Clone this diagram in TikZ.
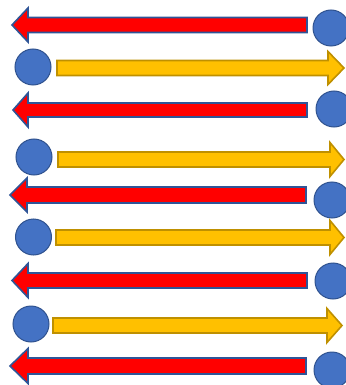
\documentclass[tikz,border=0pt]{standalone}
\usetikzlibrary{calc}
\definecolor{redfill}{HTML}{FF0000}
\definecolor{redline}{HTML}{2F5597}
\definecolor{yelfill}{HTML}{FFC000}
\definecolor{yelline}{HTML}{BF9000}
\definecolor{dotfill}{HTML}{4472C4}
\definecolor{dotline}{HTML}{2F528F}
\tikzset{
  redarrow/.style={fill=redfill,draw=redline,line width=1.6pt,line join=miter},
  yelarrow/.style={fill=yelfill,draw=yelline,line width=1.6pt,line join=miter},
  dot/.style={circle,fill=dotfill,draw=dotline,line width=1pt,minimum size=36pt,inner sep=0pt}
}
% #1 tip x, #2 head base x, #3 shaft end x, #4 centre y, #5 shaft half, #6 head half
\newcommand\myleftarrow[6]{%
  \draw[redarrow] (#1,#4) -- (#2,#4-#6) -- (#2,#4-#5) -- (#3,#4-#5) -- (#3,#4+#5) -- (#2,#4+#5) -- (#2,#4+#6) -- cycle;}
% #1 shaft start x, #2 head base x, #3 tip x, #4 centre y, #5 shaft half, #6 head half
\newcommand\myrightarrow[6]{%
  \draw[yelarrow] (#1,#4-#5) -- (#2,#4-#5) -- (#2,#4-#6) -- (#3,#4) -- (#2,#4+#6) -- (#2,#4+#5) -- (#1,#4+#5) -- cycle;}
\begin{document}
\begin{tikzpicture}[x=1pt,y=-1pt]
\useasboundingbox (0,0) rectangle (345,385);
% row 1
\myleftarrow{12}{28}{307}{25}{7.5}{17}
\node[dot] (c1) at (331,28) {};
% row 2
\node[dot] (c2) at (33,67) {};
\myrightarrow{57}{328}{344}{68}{7.5}{16.5}
% row 3
\myleftarrow{13}{28}{307}{110}{7}{17}
\node[dot] (c3) at (334,109) {};
% row 4
\node[dot] (c4) at (34,157) {};
\myrightarrow{58}{330}{344}{159.5}{7.5}{17}
% row 5
\myleftarrow{10}{27}{306}{195}{8}{17}
\node[dot] (c5) at (332,200) {};
% row 6
\node[dot] (c6) at (33.5,237) {};
\myrightarrow{56}{330}{344}{237.5}{7.5}{17}
% row 7
\myleftarrow{12}{28}{307}{280.5}{7.5}{17}
\node[dot] (c7) at (333,281) {};
% row 8
\node[dot] (c8) at (31,324) {};
\myrightarrow{53}{327}{342}{325.5}{7.5}{17}
% row 9
\myleftarrow{10}{28}{306}{366}{8}{17.5}
\node[dot] (c9) at (332,370) {};
\end{tikzpicture}
\end{document}
